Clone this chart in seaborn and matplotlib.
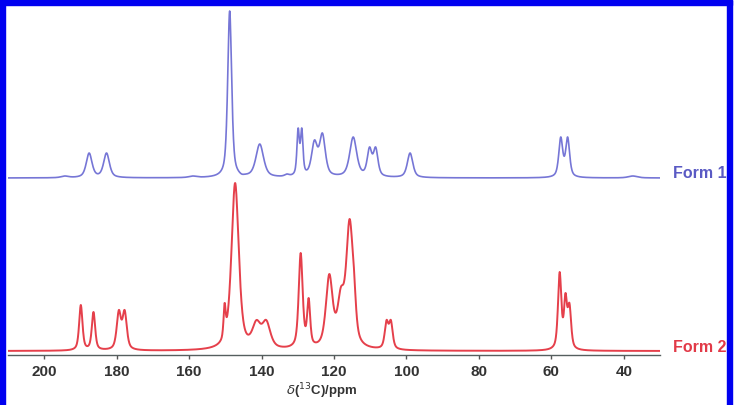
import numpy as np
import pandas as pd
import matplotlib
matplotlib.use("Agg")
import matplotlib.pyplot as plt
import seaborn as sns
from matplotlib.patches import Rectangle

# ---- data (peak lists: position ppm, height, FWHM ppm) ----
form1_pos = [194.3, 187.6, 182.8, 159.0, 148.8, 145.5, 140.5, 133.0, 129.9, 128.9,
             125.4, 123.2, 114.7, 110.2, 108.5, 99.0, 57.4, 55.5, 37.5]
form1_h = [2, 25, 25, 2, 167, 4, 34, 4, 50, 50, 38, 45, 41, 31, 31, 25, 41, 41, 2]
form1_w = [2.5, 1.9, 1.9, 2.5, 1.3, 1.5, 2.5, 1.5, 0.8, 0.8, 1.9, 1.9, 2.3, 1.5, 1.5, 1.8, 1.3, 1.3, 3.0]

form2_pos = [189.9, 186.4, 179.4, 177.8, 150.2, 147.3, 141.4, 138.7, 129.2, 127.0,
             121.3, 118.1, 115.7, 114.5, 105.5, 104.3, 57.7, 56.1, 55.0]
form2_h = [46, 39, 41, 41, 48, 168, 31, 31, 98, 53, 77, 64, 132, 83, 31, 31, 79, 58, 48]
form2_w = [1.1, 1.1, 1.4, 1.4, 0.7, 2.4, 2.7, 2.7, 1.3, 1.0, 2.2, 2.2, 2.2, 1.3, 1.2, 1.2, 1.1, 1.0, 1.1]

xticks = [200, 180, 160, 140, 120, 100, 80, 60, 40]
labels = ["Form 1", "Form 2"]
offsets = [173, 0]
colors = ["#7676d6", "#e5404b"]
text_colors = ["#5a5ac4", "#e23a48"]


def shape(x, c, w, eta=0.6):
    L = 1.0 / (1.0 + (2.0 * (x - c) / w) ** 2)
    G = np.exp(-4.0 * np.log(2) * ((x - c) / w) ** 2)
    return eta * L + (1 - eta) * G


def spectrum(x, pos, h, w):
    pos, h, w = map(np.asarray, (pos, h, w))
    M = np.array([[shape(p_i, p_j, w_j) for p_j, w_j in zip(pos, w)] for p_i in pos])
    amps = np.linalg.solve(M, h)
    y = np.zeros_like(x)
    for a, p, ww in zip(amps, pos, w):
        y += a * shape(x, p, ww)
    return y


ppm = np.arange(210.0, 29.95, -0.05)
y1 = spectrum(ppm, form1_pos, form1_h, form1_w) + offsets[0]
y2 = spectrum(ppm, form2_pos, form2_h, form2_w) + offsets[1]
df = pd.DataFrame({"ppm": np.concatenate([ppm, ppm]),
                   "I": np.concatenate([y1, y2]),
                   "form": [labels[0]] * len(ppm) + [labels[1]] * len(ppm)})

sns.set_style("white")
plt.rcParams['font.family'] = ['Liberation Sans', 'DejaVu Sans']

W, H = 737, 405
fig = plt.figure(figsize=(W / 100, H / 100), dpi=100)
ax = fig.add_axes([8 / W, (H - 355) / H, (660 - 8) / W, 350 / H])

for lab, col, lw in zip(labels, colors, [1.2, 1.4]):
    sub = df[df["form"] == lab]
    sns.lineplot(data=sub, x="ppm", y="I", ax=ax, color=col, lw=lw, sort=False,
                 estimator=None)

ax.set_xlim(210, 30)
ax.set_ylim(-4, 346)
ax.set_xticks(xticks)
ax.set_xticklabels([str(t) for t in xticks], fontsize=11, fontweight="bold", color="#333333")
ax.set_yticks([])
ax.set_xlabel("")
ax.set_ylabel("")
for s in ["top", "left", "right"]:
    ax.spines[s].set_visible(False)
ax.spines["bottom"].set_color("#555f5f")
ax.spines["bottom"].set_linewidth(1.0)
ax.tick_params(axis="x", direction="out", length=3, width=1, color="#555555", pad=4,
               bottom=True)

for lab, off, tc in zip(labels, offsets, text_colors):
    ax.text(30.0 - 13.0 / 3.622, off + 4, lab, color=tc, fontsize=11.5, fontweight="bold",
            ha="left", va="center", clip_on=False)

fig.text(322 / W, 1 - 391 / H, r"$\delta$($^{13}$C)/ppm", ha="center", va="center",
         fontsize=9.5, fontweight="bold", color="#333333")

# blue frame (left, top, right)
blue = "#0000f0"
fig.add_artist(Rectangle((0, 0), 4.5 / W, 1, transform=fig.transFigure, color=blue, zorder=20))
fig.add_artist(Rectangle((0, 1 - 5 / H), 732 / W, 5 / H, transform=fig.transFigure, color=blue, zorder=20))
fig.add_artist(Rectangle((727 / W, 0), 5 / W, 1, transform=fig.transFigure, color=blue, zorder=20))

fig.savefig("out.png", dpi=100, facecolor="white")
